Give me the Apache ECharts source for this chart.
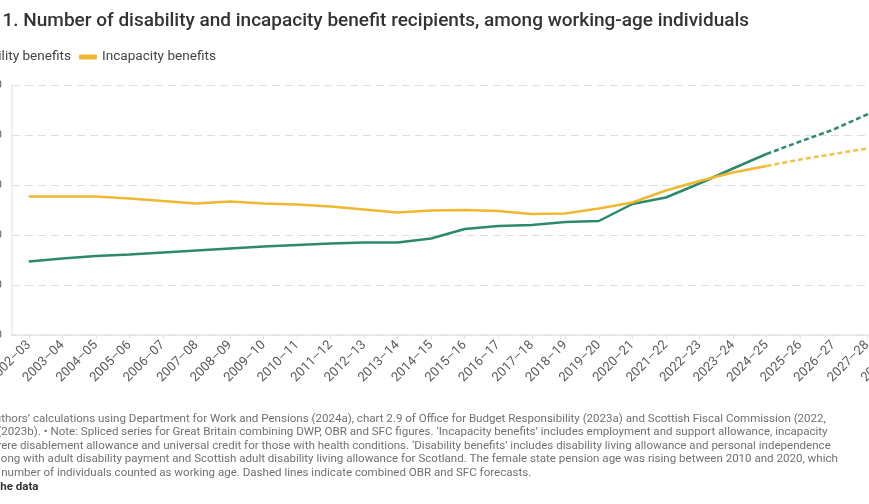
<!DOCTYPE html>
<html>
<head>
<meta charset="utf-8">
<script src="https://cdn.jsdelivr.net/npm/echarts@6/dist/echarts.min.js"></script>
<style>
html,body{margin:0;padding:0;background:#fff;overflow:hidden;}
#chart{width:869px;height:504px;}
</style>
</head>
<body>
<div id="chart"></div>
<script>
// ---- data ----
const categories = ['2002–03','2003–04','2004–05','2005–06','2006–07','2007–08','2008–09','2009–10','2010–11','2011–12','2012–13','2013–14','2014–15','2015–16','2016–17','2017–18','2018–19','2019–20','2020–21','2021–22','2022–23','2023–24','2024–25','2025–26','2026–27','2027–28','2028–29'];
// millions of recipients
const disabilityActual = [1.47,1.53,1.58,1.61,1.65,1.69,1.73,1.77,1.80,1.83,1.85,1.85,1.93,2.12,2.18,2.20,2.26,2.28,2.62,2.75,3.03,3.33,3.62];
const disabilityForecast = [3.62,3.87,4.11,4.41,4.65]; // from 2024–25
const incapacityActual = [2.77,2.77,2.77,2.73,2.68,2.63,2.67,2.63,2.61,2.57,2.51,2.45,2.49,2.50,2.48,2.42,2.43,2.53,2.65,2.89,3.08,3.25,3.38];
const incapacityForecast = [3.38,3.51,3.62,3.73,3.82]; // from 2024–25
const yTicks = [0,1,2,3,4,5];
const titleText = 'Figure 1. Number of disability and incapacity benefit recipients, among working-age individuals';
const seriesNames = ['Disability benefits','Incapacity benefits'];
const footLines = [
  ['Source: Au', 'thors’ calculations using Department for Work and Pensions (2024a), chart 2.9 of Office for Budget Responsibility (2023a) and Scottish Fiscal Commission (2022,'],
  ['', '(2023b). • Note: Spliced series for Great Britain combining DWP, OBR and SFC figures. ‘Incapacity benefits’ includes employment and support allowance, incapacity'],
  ['benefit, sev', 'ere disablement allowance and universal credit for those with health conditions. ‘Disability benefits’ includes disability living allowance and personal independence'],
  ['payment al', 'ong with adult disability payment and Scottish adult disability living allowance for Scotland. The female state pension age was rising between 2010 and 2020, which'],
  ['increased the ', 'number of individuals counted as working age. Dashed lines indicate combined OBR and SFC forecasts.'],
  ['Get t', 'he data']
];

// ---- helpers ----
const mctx = document.createElement('canvas').getContext('2d');
function tw(text, font){ mctx.font = font; return mctx.measureText(text).width; }

const firstIdx = disabilityActual.length - 1;
function pad(arr, start){ const out = new Array(categories.length).fill(null); arr.forEach((v,i)=>{ out[start+i]=v; }); return out; }

const GREEN = '#2b8a68';
const GREEN_D = '#2f8a6c';
const YELLOW = '#efb82f';
const YELLOW_D = '#f0c24e';

const titleFont = '500 19px Roboto';
const legendFont = '13.6px Roboto';
const footFont = '11.55px Roboto';
const footBoldFont = 'bold 11.55px Roboto';

const titleLeft = 2.5 - tw('Figure ', titleFont);
const legendLeft = 79 - 8 - tw(seriesNames[0], legendFont) - 5 - 18;

const footY = [419, 432.5, 446, 459.6, 473.2, 487];
const footX = [1.2, -2.6, 1.2, 0.8, 1.2, 0.2];
const footGraphics = footLines.map((ln, i) => {
  const bold = i === footLines.length - 1;
  const f = bold ? footBoldFont : footFont;
  return {
    type: 'text',
    x: footX[i] - tw(ln[0], f),
    y: footY[i],
    style: {
      text: ln[0] + ln[1],
      font: f,
      fill: bold ? '#333333' : '#707070',
      textVerticalAlign: 'middle',
      textAlign: 'left'
    }
  };
});

const chart = echarts.init(document.getElementById('chart'), null, {renderer: 'canvas'});
chart.setOption({
  animation: false,
  backgroundColor: '#ffffff',
  title: {
    text: titleText,
    left: titleLeft,
    top: 11.5,
    padding: 0,
    textStyle: {fontFamily: 'Roboto', fontSize: 19, fontWeight: 500, color: '#333333'}
  },
  legend: {
    data: seriesNames,
    left: legendLeft,
    top: 50,
    padding: 0,
    itemGap: 8,
    itemWidth: 18,
    itemHeight: 5,
    icon: 'roundRect',
    textStyle: {fontFamily: 'Roboto', fontSize: 13.6, color: '#444444'}
  },
  grid: {
    left: 12,
    right: -48.4,
    top: 85,
    bottom: 169,
    containLabel: false,
    outerBoundsMode: 'none'
  },
  xAxis: {
    type: 'category',
    data: categories,
    boundaryGap: true,
    axisLine: {show: true, lineStyle: {color: '#e3e3e3', width: 1.5}},
    axisTick: {show: true, alignWithLabel: true, length: 4, lineStyle: {color: '#e3e3e3'}},
    axisLabel: {interval: 0, rotate: 45, margin: 8, fontFamily: 'Roboto', fontSize: 13, color: '#5a5a5a'},
    splitLine: {show: false}
  },
  yAxis: {
    type: 'value',
    min: 0,
    max: 5,
    interval: 1,
    axisLine: {show: true, lineStyle: {color: '#e8e8e8', width: 1.5}},
    axisTick: {show: false},
    axisLabel: {
      margin: 10,
      fontFamily: 'Roboto', fontSize: 11.5, color: '#5e5e5e',
      formatter: v => yTicks.includes(v) ? (v * 1000000).toLocaleString('en-GB') : ''
    },
    splitLine: {show: true, lineStyle: {color: '#dedede', type: [8,5], width: 1}}
  },
  series: [
    {name: seriesNames[0], type: 'line', data: pad(disabilityActual, 0), showSymbol: false, symbol: 'none', color: GREEN,
      lineStyle: {width: 2.5, color: GREEN}, z: 3},
    {name: seriesNames[1], type: 'line', data: pad(incapacityActual, 0), showSymbol: false, symbol: 'none', color: YELLOW,
      lineStyle: {width: 2.5, color: YELLOW}, z: 3},
    {name: 'Disability benefits (forecast)', type: 'line', data: pad(disabilityForecast, firstIdx), showSymbol: false, symbol: 'none', color: GREEN_D,
      lineStyle: {width: 2.5, color: GREEN_D, type: [5,3]}, z: 2},
    {name: 'Incapacity benefits (forecast)', type: 'line', data: pad(incapacityForecast, firstIdx), showSymbol: false, symbol: 'none', color: YELLOW_D,
      lineStyle: {width: 2.5, color: YELLOW_D, type: [5,3]}, z: 2}
  ],
  graphic: footGraphics
});
</script>
</body>
</html>
